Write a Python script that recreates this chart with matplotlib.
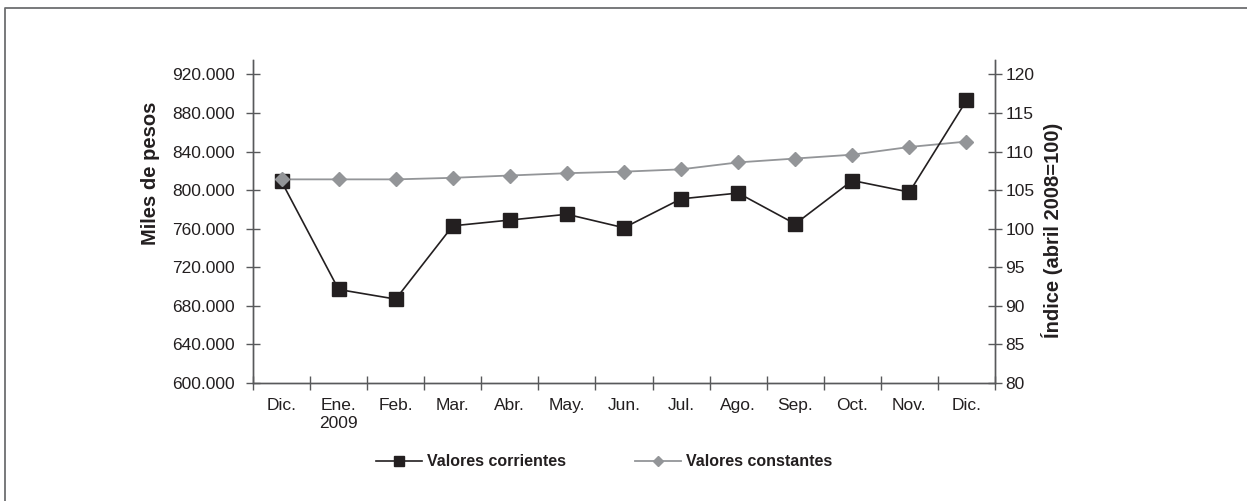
"""Valores corrientes y constantes, Dic. 2008 - Dic. 2009."""

import matplotlib
import matplotlib.pyplot as plt
from matplotlib.lines import Line2D
from matplotlib.ticker import FixedLocator, FuncFormatter

matplotlib.use("Agg")

months = ["Dic.", "Ene.\n2009", "Feb.", "Mar.", "Abr.", "May.", "Jun.",
          "Jul.", "Ago.", "Sep.", "Oct.", "Nov.", "Dic."]
corrientes = [809000, 697000, 687000, 763000, 769000, 775000, 761000,
              791000, 797000, 765000, 810000, 798000, 893000]
constantes = [106.4, 106.4, 106.4, 106.6, 106.9, 107.2, 107.4,
              107.7, 108.6, 109.1, 109.6, 110.6, 111.3]

BLACK = "#231f20"
GRAY = "#939598"
AXIS = "#58595b"

plt.rcParams["font.family"] = ["Liberation Sans", "DejaVu Sans"]


def main(output_path: str = "out.png") -> None:
    fig = plt.figure(figsize=(12.47, 5.01), dpi=100)
    ax = fig.add_axes([253 / 1247, 1 - 383 / 501, 742 / 1247, 323 / 501])
    ax2 = ax.twinx()

    x = list(range(len(months)))
    # drawing order as in the original: gray line, black line,
    # black squares, gray diamonds on top
    ax2.plot(x, constantes, color=GRAY, lw=1.3, zorder=1)
    ax2.plot(x, corrientes, color=BLACK, lw=1.2, zorder=2,
             transform=ax.transData)
    ax2.plot(x, corrientes, ls="none", color=BLACK, marker="s", ms=9.5,
             zorder=3, transform=ax.transData)
    ax2.plot(x, constantes, ls="none", color=GRAY, marker="D", ms=7,
             zorder=4)

    ax.set_xlim(-0.5, len(months) - 0.5)
    ax.set_ylim(600000, 935000)
    ax2.set_ylim(80, 121.875)
    ax.set_yticks(range(600000, 920001, 40000))
    ax.yaxis.set_major_formatter(
        FuncFormatter(lambda v, p: f"{int(v):,}".replace(",", ".")))
    ax2.set_yticks(range(80, 121, 5))

    ax.xaxis.set_major_locator(FixedLocator([i - 0.5 for i in range(len(months) + 1)]))
    ax.xaxis.set_minor_locator(FixedLocator(x))
    ax.set_xticklabels([], minor=False)
    ax.set_xticklabels(months, minor=True)
    ax.tick_params(axis="x", which="major", direction="inout", length=10,
                   width=1, color=AXIS)
    ax.tick_params(axis="x", which="minor", length=0, pad=11,
                   labelsize=12.5, labelcolor=BLACK)
    ax.tick_params(axis="y", direction="inout", length=10, width=1,
                   color=AXIS, pad=8, labelsize=12.5, labelcolor=BLACK)
    ax2.tick_params(axis="y", direction="inout", length=10, width=1,
                    color=AXIS, pad=2.5, labelsize=12.5, labelcolor=BLACK)

    for a in (ax, ax2):
        a.spines["top"].set_visible(False)
        for s in ("left", "right", "bottom"):
            a.spines[s].set_color(AXIS)
            a.spines[s].set_linewidth(1)

    fig.text(0.121, 1 - 173.5 / 501, "Miles de pesos", rotation=90,
             ha="center", va="center", fontsize=14.5, fontweight="bold",
             color=BLACK)
    fig.text(0.844, 1 - 230 / 501, "Índice (abril 2008=100)", rotation=90,
             ha="center", va="center", fontsize=14.5, fontweight="bold",
             color=BLACK)

    handles = [Line2D([], [], color=BLACK, lw=1.2, marker="s", ms=7.5),
               Line2D([], [], color=GRAY, lw=1.3, marker="D", ms=5.5)]
    leg = fig.legend(handles, ["Valores corrientes", "Valores constantes"],
                     ncol=2, loc="center",
                     bbox_to_anchor=(604 / 1247, 1 - 462 / 501),
                     frameon=False, handlelength=2.9, handletextpad=0.3,
                     columnspacing=4.3,
                     prop={"size": 11.5, "weight": "bold"})
    for t in leg.get_texts():
        t.set_color(BLACK)

    # frame on the left and top of the figure
    fig.add_artist(Line2D([5 / 1247, 5 / 1247, 1], [0, 1 - 8 / 501, 1 - 8 / 501],
                          transform=fig.transFigure, color="#6d6e71", lw=1.3))

    fig.savefig(output_path, dpi=100)
    plt.close(fig)


if __name__ == "__main__":
    main()
